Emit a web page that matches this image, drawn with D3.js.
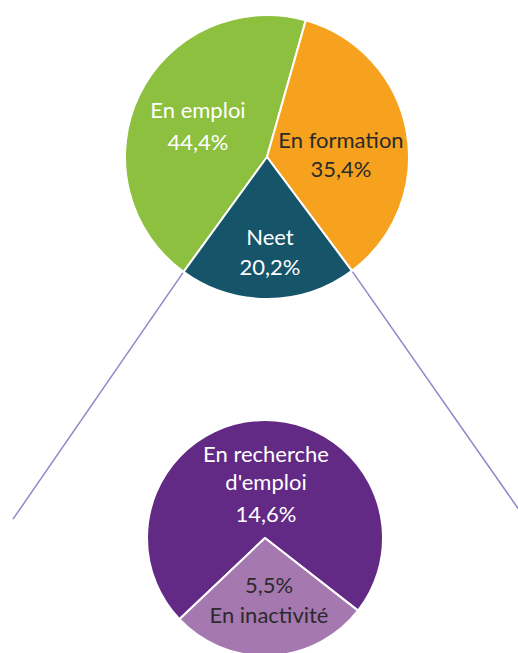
<!DOCTYPE html>
<html>
<head>
<meta charset="utf-8">
<script src="https://cdn.jsdelivr.net/npm/d3@7"></script>
<style>
  html, body { margin: 0; padding: 0; background: #ffffff; }
  svg { display: block; }
  text { font-family: Lato, "Open Sans", sans-serif; font-size: 22px; }
</style>
</head>
<body>
<svg id="chart" width="518" height="653"></svg>
<script>
// ---- Data ----
const mainCategories = ["En emploi", "En formation", "Neet"];
const mainValues = [44.4, 35.4, 20.2];
const mainLabels = ["44,4%", "35,4%", "20,2%"];

const neetCategories = ["En recherche d'emploi", "En inactivité"];
const neetValues = [14.6, 5.5];
const neetLabels = ["14,6%", "5,5%"];

// ---- Styles / layout ----
const mainColors = ["#8dc03f", "#f6a21e", "#16546a"];
const neetColors = ["#622a85", "#a678b0"];
const deg = Math.PI / 180;

const svg = d3.select("#chart");

const topPie = { cx: 267, cy: 157, r: 142, start: -144 * deg };
const botPie = { cx: 265, cy: 538, r: 118, start: -133.5 * deg };

const mainPie = d3.pie().sort(null).value(d => d.v)
  .startAngle(topPie.start).endAngle(topPie.start + 2 * Math.PI);
const neetPie = d3.pie().sort(null).value(d => d.v)
  .startAngle(botPie.start).endAngle(botPie.start + 2 * Math.PI);

const mainArcs = mainPie(mainCategories.map((c, i) => ({ c, v: mainValues[i], l: mainLabels[i], col: mainColors[i] })));
const neetArcs = neetPie(neetCategories.map((c, i) => ({ c, v: neetValues[i], l: neetLabels[i], col: neetColors[i] })));

// connector lines from Neet slice edges
const neet = mainArcs[2];
const pt = a => [topPie.cx + topPie.r * Math.sin(a), topPie.cy - topPie.r * Math.cos(a)];
const p1 = pt(neet.startAngle), p2 = pt(neet.endAngle);
const extend = (p, slope, x) => [x, p[1] + (x - p[0]) * slope];
const lineG = svg.append("g");
const e1 = extend(p1, 1.43, 530), e2 = extend(p2, -1.45, 13);
lineG.append("line")
  .attr("x1", p1[0]).attr("y1", p1[1]).attr("x2", e1[0]).attr("y2", e1[1])
  .attr("stroke", "#8d89c9").attr("stroke-width", 1.5);
lineG.append("line")
  .attr("x1", p2[0]).attr("y1", p2[1]).attr("x2", e2[0]).attr("y2", e2[1])
  .attr("stroke", "#8d89c9").attr("stroke-width", 1.5);

const arcTop = d3.arc().innerRadius(0).outerRadius(topPie.r);
const arcBot = d3.arc().innerRadius(0).outerRadius(botPie.r);

svg.append("g").attr("transform", `translate(${topPie.cx},${topPie.cy})`)
  .selectAll("path").data(mainArcs).join("path")
  .attr("d", arcTop).attr("fill", d => d.data.col)
  .attr("stroke", "#ffffff").attr("stroke-width", 2).attr("stroke-linejoin", "round");

svg.append("g").attr("transform", `translate(${botPie.cx},${botPie.cy})`)
  .selectAll("path").data(neetArcs).join("path")
  .attr("d", arcBot).attr("fill", d => d.data.col)
  .attr("stroke", "#ffffff").attr("stroke-width", 2).attr("stroke-linejoin", "round");

// ---- Labels ----
const white = "#ffffff", dark = "#2b2a2c";
function label(lines, x, ys, color) {
  const t = svg.append("text").attr("text-anchor", "middle").attr("fill", color);
  lines.forEach((s, i) => t.append("tspan").attr("x", x).attr("y", ys[i]).text(s));
}
label([mainCategories[0], mainLabels[0]], 198, [118, 150], white);
label([mainCategories[1], mainLabels[1]], 341, [148, 177], dark);
label([mainCategories[2], mainLabels[2]], 270, [245, 275], white);
label(["En recherche", "d'emploi", neetLabels[0]], 266, [462, 490, 522], white);
label([neetLabels[1], "En inactivité"], 269, [593, 623], dark);
</script>
</body>
</html>
